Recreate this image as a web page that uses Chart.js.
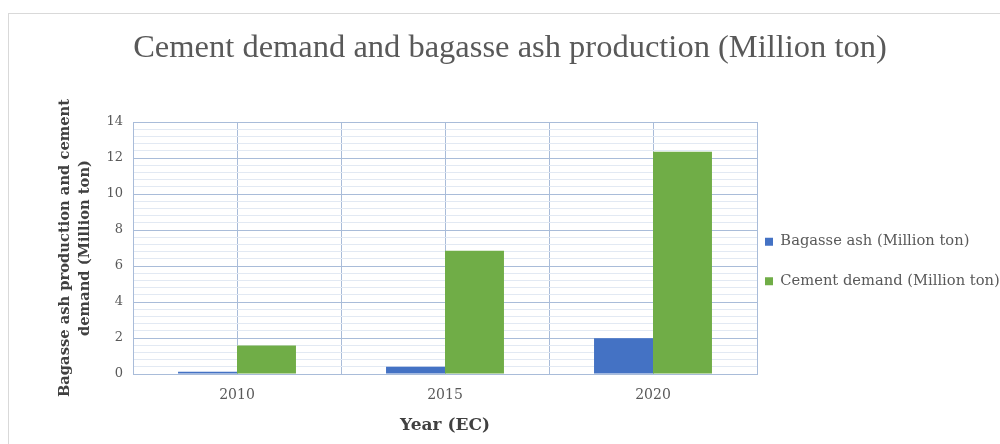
<!DOCTYPE html>
<html>
<head>
<meta charset="utf-8">
<script src="https://cdn.jsdelivr.net/npm/chart.js@4/dist/chart.umd.min.js"></script>
<style>
  html, body { margin: 0; padding: 0; background: #ffffff; }
  #wrap { width: 1000px; height: 444px; position: relative; }
  canvas { display: block; }
</style>
</head>
<body>
<div id="wrap"><canvas id="chart" width="1000" height="444"></canvas></div>
<script>
// Data
const years = ['2010', '2015', '2020'];
const bagasseAsh = [0.12, 0.40, 1.98];
const cementDemand = [1.58, 6.85, 12.35];
const seriesNames = ['Bagasse ash (Million ton)', 'Cement demand (Million ton)'];
const chartTitle = 'Cement demand and bagasse ash production (Million ton)';
const yTitleLines = ['Bagasse ash production and cement', 'demand (Million ton)'];
const xTitle = 'Year (EC)';
const yMax = 14;
const yLabelStep = 2;
const yMinorStep = 0.4;

const SERIF = "'DejaVu Serif', 'Liberation Serif', serif";
const TITLE_SERIF = "'Liberation Serif', 'DejaVu Serif', serif";
const MAJOR_GRID = '#a9bcd9';
const MINOR_GRID = '#e2e9f3';

function isLabelled(v) {
  const q = v / yLabelStep;
  return Math.abs(q - Math.round(q)) < 1e-6;
}

// Outer chart frame (light grey border, open at right and bottom)
const framePlugin = {
  id: 'frame',
  beforeDraw(chart) {
    const ctx = chart.ctx;
    ctx.save();
    ctx.fillStyle = '#ffffff';
    ctx.fillRect(0, 0, chart.width, chart.height);
    ctx.strokeStyle = '#d9d9d9';
    ctx.lineWidth = 1;
    ctx.strokeRect(8.5, 13.5, chart.width + 20, chart.height + 20);
    ctx.restore();
  }
};

// Legend box: fixed width on the right, items nudged next to the plot
const legendPlace = {
  id: 'legendPlace',
  beforeLayout(chart) {
    const lg = chart.legend;
    if (lg && !lg._fixedFit) {
      const fit = lg.fit.bind(lg);
      lg.fit = function () { fit(); this.width = 243; };
      lg._fixedFit = true;
    }
  },
  afterLayout(chart) {
    const lg = chart.legend;
    if (!lg) return;
    const dx = -17, dy = 39.5;
    lg.left += dx;
    lg.width -= dx;
    lg.top += dy; lg.bottom += dy;
  }
};

new Chart(document.getElementById('chart'), {
  type: 'bar',
  data: {
    labels: years,
    datasets: [
      {
        label: seriesNames[0],
        data: bagasseAsh,
        backgroundColor: '#4472C4',
        borderWidth: 0,
        categoryPercentage: 0.567,
        barPercentage: 1.0
      },
      {
        label: seriesNames[1],
        data: cementDemand,
        backgroundColor: '#70AD47',
        borderWidth: 0,
        categoryPercentage: 0.567,
        barPercentage: 1.0
      }
    ]
  },
  options: {
    responsive: false,
    devicePixelRatio: 1,
    animation: false,
    layout: { padding: { left: 20, right: 0, top: 0, bottom: 0 } },
    plugins: {
      title: {
        display: true,
        text: chartTitle,
        color: '#595959',
        font: { family: TITLE_SERIF, size: 32.5, weight: 'normal', lineHeight: 1.2 },
        padding: { top: 29, bottom: 54 }
      },
      legend: {
        display: true,
        position: 'right',
        align: 'center',
        labels: {
          boxWidth: 8,
          boxHeight: 8,
          padding: 25,
          color: '#595959',
          font: { family: SERIF, size: 14.7 }
        }
      },
      tooltip: { enabled: false }
    },
    scales: {
      x: {
        type: 'category',
        position: 'bottom',
        offset: true,
        grid: { offset: true, color: MAJOR_GRID, drawTicks: false, lineWidth: 1 },
        border: { display: true, color: MAJOR_GRID },
        ticks: { color: '#595959', font: { family: SERIF, size: 14 }, padding: 13 },
        title: {
          display: true,
          text: xTitle,
          color: '#404040',
          font: { family: SERIF, size: 17, weight: 'bold' },
          padding: { top: 0, bottom: 8 }
        },
        afterFit(s) { s.height = 70; }
      },
      x2: {
        type: 'category',
        position: 'bottom',
        offset: true,
        grid: { offset: false, color: MAJOR_GRID, drawTicks: false, lineWidth: 1 },
        border: { display: false },
        ticks: { display: false },
        afterFit(s) { s.height = 0; }
      },
      y: {
        min: 0,
        max: yMax,
        ticks: {
          stepSize: yMinorStep,
          autoSkip: false,
          color: '#595959',
          font: { family: SERIF, size: 13 },
          padding: 10,
          callback: (v) => isLabelled(v) ? String(Math.round(v)) : ''
        },
        grid: {
          drawTicks: false,
          lineWidth: 1,
          color: (ctx) => (ctx.tick && isLabelled(ctx.tick.value)) ? MAJOR_GRID : MINOR_GRID
        },
        border: { display: true, color: MAJOR_GRID },
        title: {
          display: true,
          text: yTitleLines,
          color: '#404040',
          font: { family: SERIF, size: 14.7, weight: 'bold', lineHeight: 1.36 },
          padding: { top: 35, bottom: 4 }
        },
        afterFit(s) { s.width = 113; }
      }
    }
  },
  plugins: [framePlugin, legendPlace]
});
</script>
</body>
</html>
